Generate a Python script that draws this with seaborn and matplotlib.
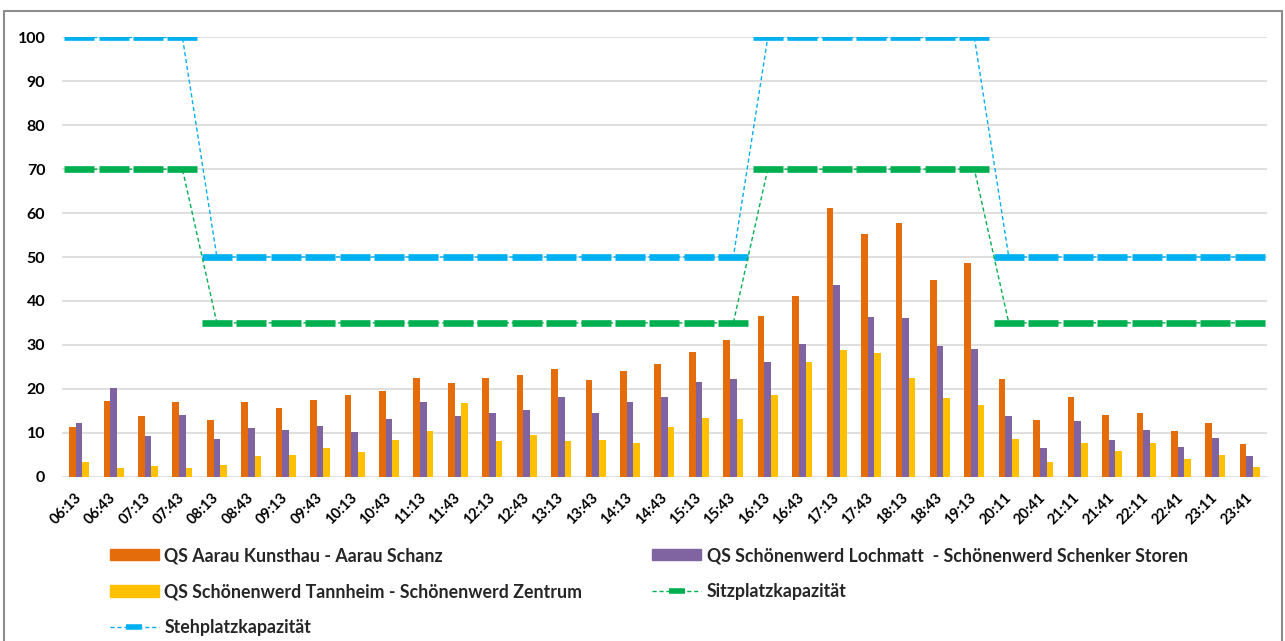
import matplotlib
matplotlib.use("Agg")
import matplotlib.pyplot as plt
from matplotlib.lines import Line2D
from matplotlib.patches import Patch, Rectangle
import numpy as np
import pandas as pd
import seaborn as sns

zeiten = ['06:13', '06:43', '07:13', '07:43', '08:13', '08:43', '09:13', '09:43',
          '10:13', '10:43', '11:13', '11:43', '12:13', '12:43', '13:13', '13:43',
          '14:13', '14:43', '15:13', '15:43', '16:13', '16:43', '17:13', '17:43',
          '18:13', '18:43', '19:13', '20:11', '20:41', '21:11', '21:41', '22:11',
          '22:41', '23:11', '23:41']

aarau = [11.3, 17.2, 13.7, 17.0, 12.9, 17.0, 15.7, 17.5, 18.5, 19.5, 22.5, 21.2,
         22.5, 23.2, 24.5, 22.0, 24.0, 25.6, 28.4, 31.2, 36.6, 41.2, 61.1, 55.2,
         57.8, 44.8, 48.6, 22.2, 12.9, 18.2, 14.1, 14.4, 10.4, 12.3, 7.3]
lochmatt = [12.1, 20.1, 9.3, 14.0, 8.6, 11.1, 10.6, 11.4, 10.1, 13.2, 17.0, 13.7,
            14.4, 15.1, 18.0, 14.4, 17.0, 18.2, 21.5, 22.3, 26.1, 30.2, 43.7, 36.3,
            36.1, 29.7, 29.1, 13.7, 6.5, 12.6, 8.3, 10.6, 6.7, 8.8, 4.6]
tannheim = [3.4, 1.9, 2.4, 1.9, 2.7, 4.7, 5.0, 6.5, 5.5, 8.3, 10.4, 16.7,
            8.1, 9.4, 8.1, 8.4, 7.6, 11.3, 13.3, 13.0, 18.5, 26.1, 28.9, 28.1,
            22.5, 17.9, 16.3, 8.5, 3.2, 7.6, 5.9, 7.6, 3.9, 4.8, 2.1]

sitzplatz = [70, 70, 70, 70, 35, 35, 35, 35, 35, 35, 35, 35, 35, 35, 35, 35, 35, 35,
             35, 35, 70, 70, 70, 70, 70, 70, 70, 35, 35, 35, 35, 35, 35, 35, 35]
stehplatz = [100, 100, 100, 100, 50, 50, 50, 50, 50, 50, 50, 50, 50, 50, 50, 50, 50, 50,
             50, 50, 100, 100, 100, 100, 100, 100, 100, 50, 50, 50, 50, 50, 50, 50, 50]

namen = ['QS Aarau Kunsthau - Aarau Schanz',
         'QS Schönenwerd Lochmatt  - Schönenwerd Schenker Storen',
         'QS Schönenwerd Tannheim - Schönenwerd Zentrum']
farben = ['#E46C0A', '#8064A2', '#FFC000']
blau = '#00B0F0'
gruen = '#00B050'

df = pd.DataFrame({
    'Zeit': zeiten * 3,
    'Reihe': [namen[0]] * len(zeiten) + [namen[1]] * len(zeiten) + [namen[2]] * len(zeiten),
    'Wert': aarau + lochmatt + tannheim,
})

sns.set_theme(style='white')
plt.rcParams['font.family'] = ['Lato', 'DejaVu Sans']

fig = plt.figure(figsize=(12.85, 6.41), dpi=100)
ax = fig.add_axes([0.0482, 0.2566, 0.9378, 0.6849])

sns.barplot(data=df, x='Zeit', y='Wert', hue='Reihe', palette=farben, width=0.58,
            gap=0, saturation=1, errorbar=None, legend=False, linewidth=0, ax=ax)

# Kapazitaetslinien: duenne gestrichelte Linie + breite Strich-Marker
x = np.arange(len(zeiten))
ax.plot(x, stehplatz, color=blau, lw=1, ls=(0, (3, 2)), marker='_', ms=21, mew=4.8, zorder=4)
ax.plot(x, sitzplatz, color=gruen, lw=1, ls=(0, (3, 2)), marker='_', ms=21, mew=4.8, zorder=4)

ax.set_ylim(0, 100)
ax.set_xlim(-0.5, len(zeiten) - 0.5)
ax.set_yticks(range(0, 101, 10))
ax.set_xlabel('')
ax.set_ylabel('')
ax.yaxis.grid(True, color='#D9D9D9', lw=1.2)
ax.set_axisbelow(True)
for s in ax.spines.values():
    s.set_visible(False)
ax.tick_params(axis='both', length=0)
ax.tick_params(axis='y', pad=12)
ax.tick_params(axis='x', pad=14)
for t in ax.get_yticklabels():
    t.set_fontweight('bold')
    t.set_fontsize(11.5)
    t.set_color('black')
ax.set_xticks(x)
ax.set_xticklabels(zeiten, rotation=45, ha='right', va='center', rotation_mode='anchor',
                   fontweight='bold', fontsize=10.5, color='black')

handles = [
    Patch(color=farben[0], label=namen[0]),
    Patch(color=farben[2], label=namen[2]),
    Line2D([], [], color=blau, lw=1, ls=(0, (3, 2)), marker='_', ms=12, mew=4, label='Stehplatzkapazität'),
    Patch(color=farben[1], label=namen[1]),
    Line2D([], [], color=gruen, lw=1, ls=(0, (3, 2)), marker='_', ms=12, mew=4, label='Sitzplatzkapazität'),
]
leg = fig.legend(handles=handles, loc='upper left', bbox_to_anchor=(110 / 1285, 1 - 547 / 641),
                 ncol=2, frameon=False, borderpad=0, borderaxespad=0, handlelength=2.75,
                 handleheight=0.6, handletextpad=0.3, labelspacing=1.08, columnspacing=3.95,
                 prop={'family': 'Lato', 'weight': 'bold', 'size': 12.8})

# Rahmen um den Diagrammbereich
fig.patches.append(Rectangle((4 / 1285, -0.02), 1278 / 1285, 1.02 - 11 / 641,
                             transform=fig.transFigure, fill=False, ec='#8C8C8C', lw=1.5))

fig.savefig('out.png', dpi=100, facecolor='white')
